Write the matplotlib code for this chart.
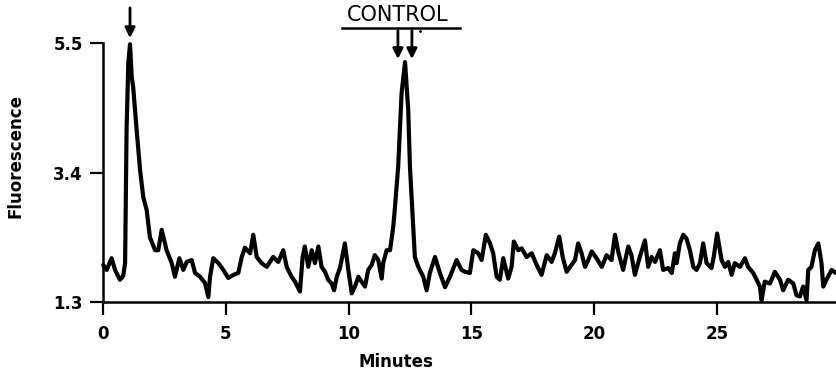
import matplotlib
matplotlib.use("Agg")
import matplotlib.pyplot as plt

minutes = [0.01, 0.15, 0.35, 0.49, 0.69, 0.82, 0.90, 0.96, 1.03, 1.10, 1.17, 1.23, 1.37, 1.51, 1.64, 1.78,
           1.91, 2.12, 2.25, 2.39, 2.59, 2.80, 2.93, 3.11, 3.27, 3.41, 3.61, 3.75, 3.95, 4.15, 4.29,
           4.36, 4.49, 4.70, 4.90, 5.10, 5.31, 5.51, 5.65, 5.78, 5.99, 6.12, 6.26, 6.46, 6.67, 6.93, 7.14,
           7.34, 7.48, 7.68, 7.82, 8.02, 8.13, 8.22, 8.36, 8.50, 8.63, 8.77, 8.90, 9.04, 9.17, 9.31, 9.41,
           9.52, 9.65, 9.85, 9.99, 10.13, 10.26, 10.40, 10.53, 10.67, 10.80, 10.94, 11.07, 11.21, 11.35,
           11.41, 11.55, 11.69, 11.82, 11.89, 12.02, 12.16, 12.30, 12.43, 12.50, 12.61, 12.70, 12.84,
           13.04, 13.18, 13.31, 13.52, 13.72, 13.93, 14.13, 14.40, 14.60, 14.74, 14.94, 15.08, 15.28,
           15.42, 15.59, 15.76, 15.89, 16.03, 16.16, 16.30, 16.50, 16.64, 16.73, 16.91, 17.05, 17.25,
           17.46, 17.66, 17.86, 18.07, 18.27, 18.40, 18.58, 18.72, 18.88, 19.08, 19.22, 19.35, 19.49,
           19.63, 19.76, 19.90, 20.10, 20.31, 20.51, 20.71, 20.85, 20.98, 21.18, 21.39, 21.52, 21.66,
           21.86, 22.07, 22.20, 22.34, 22.48, 22.68, 22.81, 23.02, 23.16, 23.29, 23.36, 23.49, 23.63,
           23.76, 23.90, 24.04, 24.17, 24.31, 24.44, 24.58, 24.78, 24.87, 25.01, 25.19, 25.33, 25.46,
           25.60, 25.73, 25.94, 26.14, 26.27, 26.48, 26.62, 26.75, 26.82, 26.95, 27.16, 27.36, 27.57,
           27.70, 27.90, 28.11, 28.24, 28.38, 28.51, 28.65, 28.72, 28.85, 28.99, 29.13, 29.26, 29.33,
           29.46, 29.67, 29.84]

fluorescence = [1.90, 1.82, 2.01, 1.82, 1.66, 1.72, 1.93, 4.09, 5.17, 5.48, 4.95, 4.78, 4.09, 3.44, 3.00, 2.79,
                2.35, 2.14, 2.14, 2.47, 2.14, 1.93, 1.71, 2.01, 1.82, 1.95, 1.98, 1.77, 1.71, 1.61, 1.38,
                1.71, 2.01, 1.93, 1.82, 1.69, 1.74, 1.77, 2.03, 2.18, 2.09, 2.39, 2.03, 1.93, 1.87, 2.03, 1.95,
                2.14, 1.87, 1.71, 1.63, 1.47, 2.03, 2.20, 1.87, 2.14, 1.93, 2.20, 1.87, 1.79, 1.66, 1.60, 1.49,
                1.71, 1.85, 2.25, 1.82, 1.44, 1.55, 1.71, 1.63, 1.55, 1.82, 1.90, 2.06, 1.98, 1.68,
                1.93, 2.14, 2.14, 2.52, 2.84, 3.49, 4.69, 5.19, 4.41, 3.49, 2.68, 2.03, 1.87,
                1.71, 1.49, 1.77, 2.03, 1.77, 1.54, 1.71, 1.98, 1.82, 1.79, 1.77, 2.14, 2.09,
                1.98, 2.39, 2.25, 2.09, 1.71, 1.66, 2.01, 1.68, 1.87, 2.28, 2.14, 2.17, 2.03,
                2.09, 1.90, 1.74, 2.06, 1.95, 2.09, 2.36, 2.03, 1.79, 1.90, 1.98, 2.25, 2.09,
                1.87, 1.98, 2.12, 2.01, 1.87, 2.06, 1.98, 2.39, 2.12, 1.82, 2.20, 2.06, 1.74,
                2.03, 2.30, 1.87, 2.03, 1.95, 2.14, 1.82, 1.85, 1.77, 2.09, 1.93, 2.25, 2.39,
                2.33, 2.14, 1.87, 1.82, 1.93, 2.25, 1.93, 1.85, 2.03, 2.41, 1.98, 1.87, 1.95,
                1.74, 1.93, 1.87, 2.01, 1.87, 1.77, 1.66, 1.55, 1.33, 1.63, 1.60, 1.79, 1.66,
                1.49, 1.66, 1.60, 1.41, 1.39, 1.55, 1.33, 1.82, 1.87, 2.14, 2.25, 1.93, 1.55,
                1.66, 1.82, 1.77]

x_ticks = [0, 5, 10, 15, 20, 25]
y_ticks = [1.3, 3.4, 5.5]
y_tick_labels = ["1.3", "3.4", "5.5"]

plt.rcParams['font.family'] = ['DejaVu Sans']

fig = plt.figure(figsize=(8.36, 3.75), dpi=100)
ax = fig.add_axes([103 / 836, 1 - 302 / 375, 1 - 103 / 836, (302 - 43) / 375])

ax.plot(minutes, fluorescence, color='black', lw=3.0, solid_joinstyle='round',
        solid_capstyle='round', clip_on=False)

ax.set_xlim(0, 29.85)
ax.set_ylim(1.3, 5.5)
ax.set_xticks(x_ticks)
ax.set_xticklabels([str(v) for v in x_ticks], fontsize=12, fontweight='bold')
ax.set_yticks(y_ticks)
ax.set_yticklabels(y_tick_labels, fontsize=12, fontweight='bold')
ax.tick_params(axis='both', direction='out', length=9.5, width=1.6)
ax.tick_params(axis='y', pad=5)
ax.tick_params(axis='x', pad=7)
for s in ['top', 'right']:
    ax.spines[s].set_visible(False)
for s in ['left', 'bottom']:
    ax.spines[s].set_linewidth(1.8)

ax.set_xlabel("Minutes", fontsize=12, fontweight='bold')
ax.xaxis.set_label_coords(0.40, -0.232)
ax.xaxis.label.set_va('center')
ax.set_ylabel("Fluorescence", fontsize=12, fontweight='bold')
ax.yaxis.set_label_coords(-0.119, 0.565)
ax.yaxis.label.set_va('center')

arrow_kw = dict(arrowstyle='-|>', color='black', lw=2.0, mutation_scale=15,
                shrinkA=0, shrinkB=0)
ax.annotate('', xy=(1.10, 5.58), xytext=(1.10, 6.07), arrowprops=arrow_kw, annotation_clip=False)
ax.annotate('', xy=(12.01, 5.24), xytext=(12.01, 5.70), arrowprops=arrow_kw, annotation_clip=False)
ax.annotate('', xy=(12.58, 5.24), xytext=(12.58, 5.70), arrowprops=arrow_kw, annotation_clip=False)
ax.plot([9.72, 14.54], [5.74, 5.74], color='black', lw=1.8, clip_on=False)
ax.plot([12.9], [5.69], marker='.', color='black', ms=2, clip_on=False)
ax.text(12.01, 5.80, "CONTROL", ha='center', va='bottom', fontsize=15, clip_on=False)

fig.savefig("out.png", dpi=100)
